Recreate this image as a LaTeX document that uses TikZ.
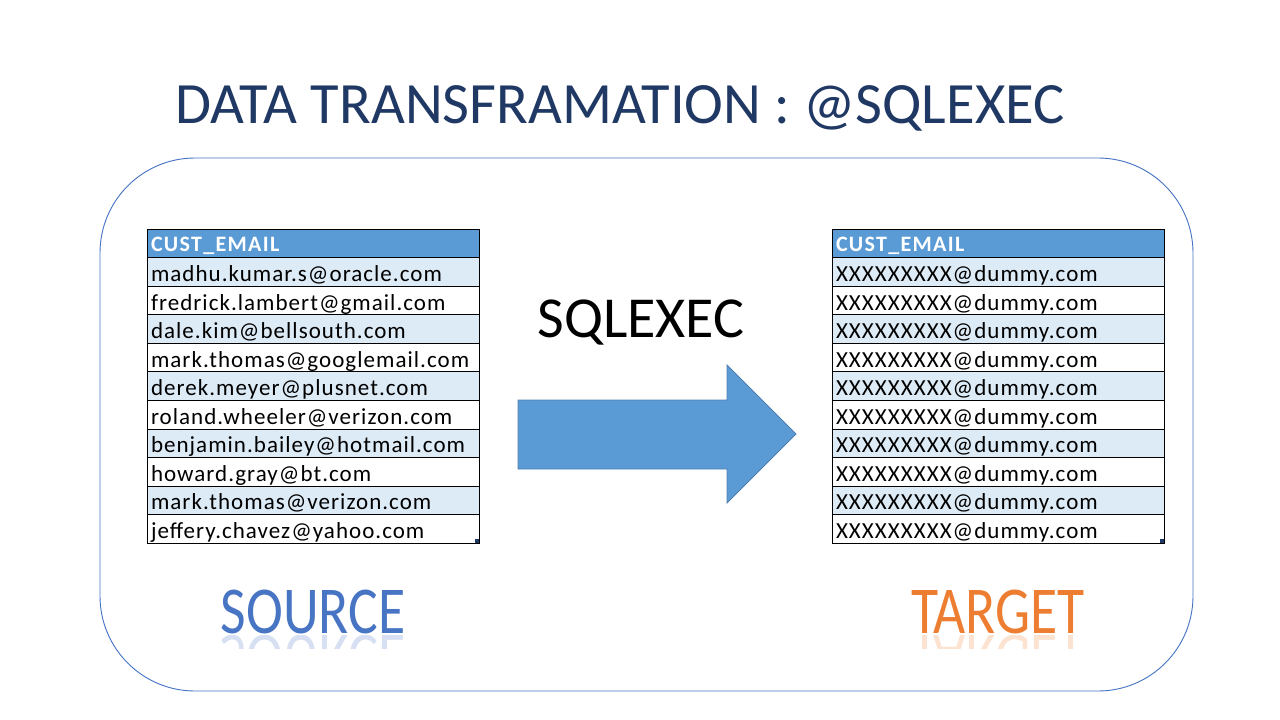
\documentclass[tikz,border=0pt]{standalone}
\usepackage{fontspec}
\setmainfont{Carlito}
\newfontfamily\cellfont[LetterSpace=4.5]{Carlito}
\newfontfamily\hdrfont[LetterSpace=6]{Carlito}
\definecolor{titleblue}{RGB}{31,56,100}
\definecolor{framecol}{RGB}{68,114,196}
\definecolor{hdrblue}{RGB}{91,155,213}
\definecolor{bandblue}{RGB}{221,235,247}
\definecolor{arrowfill}{RGB}{91,155,213}
\definecolor{arrowline}{RGB}{80,128,176}
\definecolor{srcblue}{RGB}{72,116,196}
\definecolor{tgtorange}{RGB}{237,125,49}
\begin{document}
\begin{tikzpicture}[x=1pt,y=-1pt,
  cell/.style={draw=black, line width=0.7pt, minimum width=332pt, minimum height=28.55pt,
    text width=324pt, text height=19.5pt, text depth=0pt, inner xsep=4pt, inner ysep=0pt,
    outer sep=0pt, anchor=north west, align=left, font=\cellfont\fontsize{23}{25}\selectfont},
  hdr/.style={cell, fill=hdrblue, text=white, text height=15.5pt,
    font=\hdrfont\bfseries\fontsize{22}{25}\selectfont},
  handle/.style={fill=titleblue, minimum size=4pt, inner sep=0pt, outer sep=0pt, anchor=south east},
  biglabel/.style={inner sep=0pt, anchor=base, font=\fontsize{67}{70}\selectfont},
  mirror/.style={inner sep=0pt, anchor=north, opacity=0.22, font=\fontsize{67}{70}\selectfont}]
\useasboundingbox (0,0) rectangle (1280,720);
\fill[white] (0,0) rectangle (1280,720);

% title
\node[text=titleblue, font=\fontsize{58.5}{62}\selectfont] (title) at (620,108) {DATA TRANSFRAMATION : @SQLEXEC};

% outer frame
\draw[framecol, line width=0.9pt, rounded corners=95pt] (100,158) rectangle (1193,691);

% source table
\node[hdr] (sh) at (147,229) {CUST\_EMAIL};
\foreach \e/\f [count=\i] in {
  madhu.kumar.s@oracle.com/bandblue,
  fredrick.lambert@gmail.com/white,
  dale.kim@bellsouth.com/bandblue,
  mark.thomas@googlemail.com/white,
  derek.meyer@plusnet.com/bandblue,
  roland.wheeler@verizon.com/white,
  benjamin.bailey@hotmail.com/bandblue,
  howard.gray@bt.com/white,
  mark.thomas@verizon.com/bandblue,
  jeffery.chavez@yahoo.com/white}
  \node[cell, fill=\f] (s\i) at (147,{229+\i*28.55}) {\e};
\node[handle] (sk) at (s10.south east) {};

% target table
\node[hdr] (th) at (832,229) {CUST\_EMAIL};
\foreach \f [count=\i] in {bandblue,white,bandblue,white,bandblue,white,bandblue,white,bandblue,white}
  \node[cell, fill=\f] (t\i) at (832,{229+\i*28.55}) {XXXXXXXXX@dummy.com};
\node[handle] (tk) at (t10.south east) {};

% transformation arrow
\node[font=\fontsize{58}{62}\selectfont] (sqlexec) at (641,323) {SQLEXEC};
\filldraw[fill=arrowfill, draw=arrowline, line width=0.8pt]
  (518,400) -- (727,400) -- (727,365) -- (796,434) -- (727,503) -- (727,469) -- (518,469) -- cycle;

% source / target labels with a faint reflection
\node[biglabel, text=srcblue] (src) at (313,633) {\scalebox{0.83}[1]{SOURCE}};
\node[biglabel, text=tgtorange] (tgt) at (998,633) {\scalebox{0.83}[1]{TARGET}};
\begin{scope}
  \clip (200,635) rectangle (1100,648);
  \node[mirror, text=srcblue] (srcm) at (313,635) {\scalebox{0.83}[-1]{SOURCE}};
  \node[mirror, text=tgtorange] (tgtm) at (998,635) {\scalebox{0.83}[-1]{TARGET}};
\end{scope}
\end{tikzpicture}
\end{document}
